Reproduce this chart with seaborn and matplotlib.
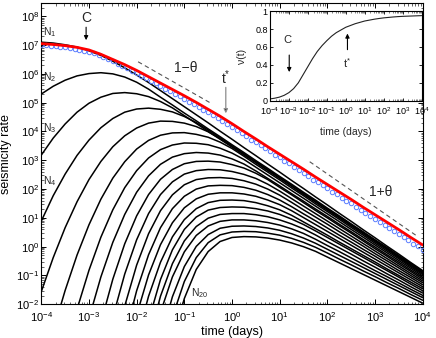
import numpy as np
import pandas as pd
import matplotlib
matplotlib.use('Agg')
import matplotlib.pyplot as plt
import seaborn as sns
from matplotlib.ticker import LogLocator, NullFormatter, FixedLocator, FixedFormatter

sns.set_theme(style='ticks')
plt.rcParams['font.family'] = ['Liberation Sans', 'DejaVu Sans']
plt.rcParams['mathtext.fontset'] = 'custom'
plt.rcParams['mathtext.rm'] = 'Liberation Sans'
plt.rcParams['mathtext.it'] = 'Liberation Sans:italic'
plt.rcParams['mathtext.bf'] = 'Liberation Sans:bold'
plt.rcParams['xtick.direction'] = 'in'
plt.rcParams['ytick.direction'] = 'in'
plt.rcParams['xtick.top'] = True
plt.rcParams['ytick.right'] = True
plt.rcParams['axes.edgecolor'] = 'black'
plt.rcParams['axes.linewidth'] = 0.8

nan = float('nan')

# log10(time) grid of the rate curves
log_t = [-4.0, -3.75, -3.5, -3.25, -3.0, -2.75, -2.5, -2.25, -2.0, -1.75, -1.5,
         -1.25, -1.0, -0.75, -0.5, -0.25, 0.0, 0.25, 0.5, 0.75, 1.0, 1.25, 1.5,
         1.75, 2.0, 2.25, 2.5, 2.75, 3.0, 3.25, 3.5, 3.75, 4.0]

# log10(rate) of each generation N_1 ... N_20
n01 = [7.10, 7.07, 7.01, 6.93, 6.80, 6.64, 6.44, 6.21, 5.96, 5.70, 5.42, 5.14, 4.86, 4.58, 4.30, 4.01, 3.73,
       3.44, 3.16, 2.87, 2.59, 2.30, 2.02, 1.73, 1.45, 1.16, 0.88, 0.59, 0.31, 0.02, -0.26, -0.55, -0.83]
n02 = [5.30, 5.57, 5.78, 5.93, 6.01, 6.04, 6.00, 5.89, 5.71, 5.47, 5.19, 4.92, 4.64, 4.37, 4.09, 3.82, 3.54,
       3.27, 2.99, 2.72, 2.44, 2.17, 1.89, 1.62, 1.34, 1.07, 0.79, 0.52, 0.24, -0.03, -0.31, -0.58, -0.86]
n03 = [3.18, 3.77, 4.26, 4.67, 4.98, 5.19, 5.32, 5.35, 5.31, 5.21, 5.04, 4.82, 4.55, 4.28, 4.00, 3.73, 3.46,
       3.19, 2.92, 2.65, 2.38, 2.11, 1.83, 1.56, 1.29, 1.02, 0.75, 0.48, 0.21, -0.06, -0.34, -0.61, -0.88]
n04 = [0.89, 1.77, 2.52, 3.17, 3.70, 4.13, 4.45, 4.67, 4.78, 4.81, 4.77, 4.68, 4.52, 4.31, 4.05, 3.78, 3.50,
       3.23, 2.95, 2.68, 2.40, 2.13, 1.85, 1.58, 1.30, 1.03, 0.75, 0.48, 0.20, -0.07, -0.35, -0.62, -0.90]
n05 = [-1.56, -0.38, 0.66, 1.56, 2.33, 2.96, 3.47, 3.85, 4.12, 4.29, 4.36, 4.35, 4.29, 4.17, 3.99, 3.75, 3.48,
       3.20, 2.93, 2.65, 2.38, 2.10, 1.82, 1.55, 1.27, 1.00, 0.72, 0.45, 0.17, -0.10, -0.38, -0.66, -0.93]
n06 = [nan, -2.92, -1.52, -0.29, 0.76, 1.65, 2.38, 2.95, 3.39, 3.69, 3.87, 3.95, 3.96, 3.90, 3.80, 3.63, 3.41,
       3.14, 2.86, 2.59, 2.32, 2.04, 1.77, 1.49, 1.22, 0.95, 0.67, 0.40, 0.12, -0.15, -0.42, -0.70, -0.97]
n07 = [nan, nan, nan, -2.17, -0.82, 0.33, 1.28, 2.05, 2.64, 3.08, 3.37, 3.53, 3.60, 3.59, 3.54, 3.42, 3.25,
       3.03, 2.76, 2.49, 2.22, 1.95, 1.68, 1.41, 1.14, 0.87, 0.60, 0.33, 0.06, -0.21, -0.48, -0.75, -1.02]
n08 = [nan, nan, nan, nan, -2.49, -1.05, 0.15, 1.12, 1.89, 2.46, 2.86, 3.11, 3.23, 3.27, 3.25, 3.18, 3.05,
       2.87, 2.63, 2.37, 2.11, 1.84, 1.58, 1.31, 1.05, 0.78, 0.52, 0.25, -0.01, -0.28, -0.54, -0.81, -1.07]
n09 = [nan, nan, nan, nan, nan, -2.64, -1.13, 0.10, 1.07, 1.81, 2.34, 2.68, 2.88, 2.96, 2.97, 2.94, 2.85,
       2.73, 2.55, 2.33, 2.06, 1.80, 1.53, 1.26, 1.00, 0.73, 0.47, 0.20, -0.07, -0.33, -0.60, -0.86, -1.13]
n10 = [nan, nan, nan, nan, nan, nan, -2.45, -0.95, 0.24, 1.15, 1.81, 2.25, 2.52, 2.64, 2.68, 2.67, 2.61,
       2.51, 2.37, 2.17, 1.93, 1.67, 1.41, 1.15, 0.89, 0.63, 0.37, 0.11, -0.15, -0.41, -0.67, -0.93, -1.19]
n11 = [nan, nan, nan, nan, nan, nan, nan, -2.06, -0.64, 0.45, 1.25, 1.80, 2.15, 2.33, 2.39, 2.40, 2.37,
       2.29, 2.17, 2.00, 1.79, 1.54, 1.28, 1.03, 0.78, 0.52, 0.27, 0.02, -0.24, -0.49, -0.74, -1.00, -1.25]
n12 = [nan, nan, nan, nan, nan, nan, nan, -3.13, -1.53, -0.28, 0.66, 1.32, 1.75, 2.00, 2.11, 2.13, 2.12,
       2.06, 1.96, 1.81, 1.62, 1.39, 1.14, 0.90, 0.65, 0.40, 0.16, -0.09, -0.33, -0.58, -0.83, -1.07, -1.32]
n13 = [nan, nan, nan, nan, nan, nan, nan, nan, -2.37, -0.98, 0.07, 0.83, 1.35, 1.66, 1.82, 1.87, 1.87,
       1.83, 1.75, 1.62, 1.46, 1.25, 1.01, 0.77, 0.53, 0.29, 0.05, -0.19, -0.43, -0.67, -0.91, -1.15, -1.39]
n14 = [nan, nan, nan, nan, nan, nan, nan, nan, -3.26, -1.72, -0.54, 0.34, 0.94, 1.32, 1.53, 1.61, 1.62,
       1.60, 1.53, 1.42, 1.28, 1.09, 0.86, 0.63, 0.40, 0.16, -0.07, -0.30, -0.53, -0.77, -1.00, -1.23, -1.46]
n15 = [nan, nan, nan, nan, nan, nan, nan, nan, nan, -2.56, -1.14, -0.11, 0.60, 1.03, 1.27, 1.36, 1.38,
       1.37, 1.32, 1.24, 1.12, 0.96, 0.77, 0.55, 0.32, 0.09, -0.14, -0.37, -0.60, -0.83, -1.06, -1.30, -1.53]
n16 = [nan, nan, nan, nan, nan, nan, nan, nan, nan, -3.27, -1.72, -0.59, 0.20, 0.70, 0.99, 1.12, 1.15,
       1.15, 1.11, 1.04, 0.93, 0.79, 0.62, 0.41, 0.18, -0.04, -0.26, -0.49, -0.71, -0.94, -1.16, -1.39, -1.61]
n17 = [nan, nan, nan, nan, nan, nan, nan, nan, nan, nan, -2.28, -1.05, -0.18, 0.39, 0.72, 0.88, 0.93,
       0.93, 0.90, 0.84, 0.75, 0.62, 0.46, 0.26, 0.04, -0.17, -0.39, -0.61, -0.83, -1.04, -1.26, -1.48, -1.69]
n18 = [nan, nan, nan, nan, nan, nan, nan, nan, nan, nan, -3.21, -1.74, -0.69, 0.01, 0.42, 0.64, 0.71,
       0.72, 0.70, 0.65, 0.57, 0.45, 0.30, 0.12, -0.09, -0.30, -0.51, -0.72, -0.93, -1.14, -1.35, -1.56, -1.77]
n19 = [nan, nan, nan, nan, nan, nan, nan, nan, nan, nan, nan, -2.44, -1.21, -0.38, 0.14, 0.41, 0.51,
       0.53, 0.52, 0.47, 0.40, 0.29, 0.15, -0.02, -0.22, -0.43, -0.63, -0.84, -1.04, -1.25, -1.45, -1.66, -1.86]
n20 = [nan, nan, nan, nan, nan, nan, nan, nan, nan, nan, nan, -3.27, -1.80, -0.79, -0.17, 0.18, 0.32,
       0.35, 0.34, 0.30, 0.23, 0.13, 0.00, -0.16, -0.36, -0.56, -0.76, -0.96, -1.16, -1.36, -1.56, -1.76, -1.96]

# log10 total seismicity rate (red)
total = [7.05, 7.02, 6.98, 6.92, 6.83, 6.68, 6.50, 6.32, 6.12, 5.90, 5.68, 5.46, 5.24, 5.01, 4.77, 4.53, 4.27,
         4.00, 3.74, 3.47, 3.21, 2.95, 2.69, 2.42, 2.16, 1.90, 1.64, 1.37, 1.11, 0.85, 0.59, 0.32, 0.06]

# blue circles: log10 time and log10 rate
obs_log_t = [-4.0, -3.9, -3.8, -3.7, -3.6, -3.5, -3.4, -3.3, -3.2, -3.1, -3.0, -2.9, -2.8, -2.7, -2.6, -2.5,
             -2.4, -2.3, -2.2, -2.1, -2.0, -1.9, -1.8, -1.7, -1.6, -1.5, -1.4, -1.3, -1.2, -1.1, -1.0, -0.9,
             -0.8, -0.7, -0.6, -0.5, -0.4, -0.3, -0.2, -0.1, 0.0, 0.1, 0.2, 0.3, 0.4, 0.5, 0.6, 0.7, 0.8,
             0.9, 1.0, 1.1, 1.2, 1.3, 1.4, 1.5, 1.6, 1.7, 1.8, 1.9, 2.0, 2.1, 2.2, 2.3, 2.4, 2.5, 2.6, 2.7,
             2.8, 2.9, 3.0, 3.1, 3.2, 3.3, 3.4, 3.5, 3.6, 3.7, 3.8, 3.9, 4.0]
obs_log_rate = [6.99, 6.99, 6.97, 6.96, 6.94, 6.92, 6.90, 6.87, 6.84, 6.80, 6.76, 6.71, 6.64, 6.58, 6.50, 6.43,
                6.35, 6.28, 6.19, 6.11, 6.03, 5.93, 5.85, 5.76, 5.67, 5.57, 5.49, 5.39, 5.31, 5.22, 5.12, 5.04,
                4.94, 4.85, 4.75, 4.66, 4.57, 4.46, 4.37, 4.25, 4.16, 4.04, 3.94, 3.84, 3.71, 3.63, 3.53, 3.41,
                3.31, 3.20, 3.10, 2.99, 2.89, 2.76, 2.67, 2.56, 2.46, 2.33, 2.24, 2.13, 2.03, 1.91, 1.82, 1.70,
                1.60, 1.50, 1.38, 1.29, 1.17, 1.08, 0.96, 0.86, 0.75, 0.65, 0.53, 0.44, 0.32, 0.22, 0.11, 0.01,
                -0.12]

# asymptotic slope guides (log10 t, log10 rate)
guide_early_t = [-1.97, -0.43]
guide_early_r = [6.42, 4.97]
guide_late_t = [1.63, 3.88]
guide_late_r = [2.95, 0.37]

# inset: fraction nu(t)
nu = [0.02, 0.028, 0.04, 0.06, 0.09, 0.135, 0.20, 0.29, 0.38, 0.47, 0.55, 0.615, 0.67, 0.72, 0.76, 0.79, 0.82,
      0.84, 0.86, 0.875, 0.89, 0.90, 0.91, 0.918, 0.925, 0.93, 0.935, 0.939, 0.942, 0.944, 0.946, 0.948, 0.95]

generations = [n01, n02, n03, n04, n05, n06, n07, n08, n09, n10,
               n11, n12, n13, n14, n15, n16, n17, n18, n19, n20]

rows = []
for k, gen in enumerate(generations, start=1):
    for lt, lr in zip(log_t, gen):
        if not np.isnan(lr):
            rows.append({'t': 10 ** lt, 'rate': 10 ** lr, 'gen': k})
df = pd.DataFrame(rows)
df_total = pd.DataFrame({'t': 10 ** np.array(log_t), 'rate': 10 ** np.array(total)})

fig = plt.figure(figsize=(4.36, 3.38), dpi=100)
ax = fig.add_axes([0.0947, 0.0997, 0.8748, 0.8914])
ax.set_xscale('log')
ax.set_yscale('log')

sns.lineplot(data=df, x='t', y='rate', units='gen', estimator=None, color='black',
             lw=1.1, ax=ax, legend=False, zorder=2)
ax.plot(10 ** np.array(obs_log_t), 10 ** np.array(obs_log_rate), 'o', mfc='none',
        mec='#5a7dff', ms=3.2, mew=0.7, zorder=3)
sns.lineplot(data=df_total, x='t', y='rate', color='#ff0000', lw=2.0, ax=ax, zorder=4)
ax.plot(10 ** np.array(guide_early_t), 10 ** np.array(guide_early_r), color='#555555',
        lw=0.8, dashes=(4, 3), zorder=2)
ax.plot(10 ** np.array(guide_late_t), 10 ** np.array(guide_late_r), color='#555555',
        lw=0.8, dashes=(4, 3), zorder=2)

ax.set_xlim(1e-4, 1e4)
ax.set_ylim(1e-2, 10 ** 8.46)
ax.xaxis.set_major_locator(LogLocator(base=10, numticks=20))
ax.yaxis.set_major_locator(LogLocator(base=10, numticks=20))
ax.xaxis.set_minor_locator(LogLocator(base=10, subs=np.arange(2, 10), numticks=100))
ax.yaxis.set_minor_locator(LogLocator(base=10, subs=np.arange(2, 10), numticks=100))
ax.xaxis.set_minor_formatter(NullFormatter())
ax.yaxis.set_minor_formatter(NullFormatter())
ax.tick_params(which='major', length=3.5, width=0.7, labelsize=8, colors='black')
ax.tick_params(axis='y', which='major', pad=1.5)
ax.tick_params(axis='x', which='major', pad=4)
ax.tick_params(which='minor', length=1.8, width=0.5)
ax.set_xlabel('time (days)', fontsize=9, color='black')
ax.set_ylabel('seismicity rate', fontsize=9, color='black')
ax.xaxis.set_label_coords(0.5, -0.072)
ax.yaxis.set_label_coords(-0.076, 0.5)

# annotations
arrow_k = dict(arrowstyle='-|>', color='black', lw=0.8, mutation_scale=6, shrinkA=0, shrinkB=0)
ax.annotate('', xy=(10 ** -3.06, 10 ** 7.17), xytext=(10 ** -3.06, 10 ** 7.62), arrowprops=arrow_k)
ax.text(10 ** -3.06, 10 ** 7.93, 'C', ha='center', va='center', fontsize=10)
ax.annotate('', xy=(10 ** -0.13, 10 ** 4.63), xytext=(10 ** -0.13, 10 ** 5.53),
            arrowprops=dict(arrowstyle='-|>', edgecolor='0.55', facecolor='black', lw=0.9,
                            mutation_scale=6, shrinkA=0, shrinkB=0))
ax.text(10 ** -0.13, 10 ** 5.86, r'$\mathrm{t}^{*}$', ha='center', va='center', fontsize=10)
ax.text(10 ** -0.97, 10 ** 6.2, '1\u2212\u03b8', ha='center', va='center', fontsize=10)
ax.text(10 ** 3.12, 10 ** 1.9, '1+\u03b8', ha='center', va='center', fontsize=10)
for lab, ly in [('1', 7.45), ('2', 5.89), ('3', 4.12), ('4', 2.28)]:
    ax.text(10 ** -3.82, 10 ** ly, r'N$_{' + lab + '}$', ha='center', va='center', fontsize=7.5)
ax.text(10 ** -0.67, 10 ** -1.61, r'N$_{20}$', ha='center', va='center', fontsize=7.5)

# inset
axi = fig.add_axes([0.619, 0.702, 0.348, 0.265])
axi.set_facecolor('white')
axi.set_xscale('log')
sns.lineplot(x=10 ** np.array(log_t), y=nu, color='#222222', lw=0.8, ax=axi)
axi.set_xlim(1e-4, 1e4)
axi.set_ylim(0, 1)
axi.xaxis.set_major_locator(LogLocator(base=10, numticks=20))
axi.xaxis.set_minor_locator(LogLocator(base=10, subs=np.arange(2, 10), numticks=100))
axi.xaxis.set_minor_formatter(NullFormatter())
axi.yaxis.set_major_locator(FixedLocator([0, 0.2, 0.4, 0.6, 0.8, 1.0]))
axi.yaxis.set_major_formatter(FixedFormatter(['0', '0.2', '0.4', '0.6', '0.8', '1']))
axi.tick_params(which='major', length=2.5, width=0.6, labelsize=6.5, pad=1.5, colors='black')
axi.tick_params(axis='x', which='major', pad=3)
axi.tick_params(which='minor', length=1.3, width=0.4)
axi.set_xlabel('time (days)', fontsize=7.5)
axi.set_ylabel('\u03bd(t)', fontsize=7.5)
axi.xaxis.set_label_coords(0.5, -0.29)
axi.yaxis.set_label_coords(-0.15, 0.5)
axi.annotate('', xy=(10 ** -2.98, 0.32), xytext=(10 ** -2.98, 0.51), arrowprops=arrow_k)
axi.text(10 ** -3.05, 0.68, 'C', ha='center', va='center', fontsize=8)
axi.annotate('', xy=(10 ** 0.09, 0.75), xytext=(10 ** 0.09, 0.57), arrowprops=arrow_k)
axi.text(10 ** 0.09, 0.42, r'$\mathrm{t}^{*}$', ha='center', va='center', fontsize=8)

fig.savefig('out.png', dpi=100)
